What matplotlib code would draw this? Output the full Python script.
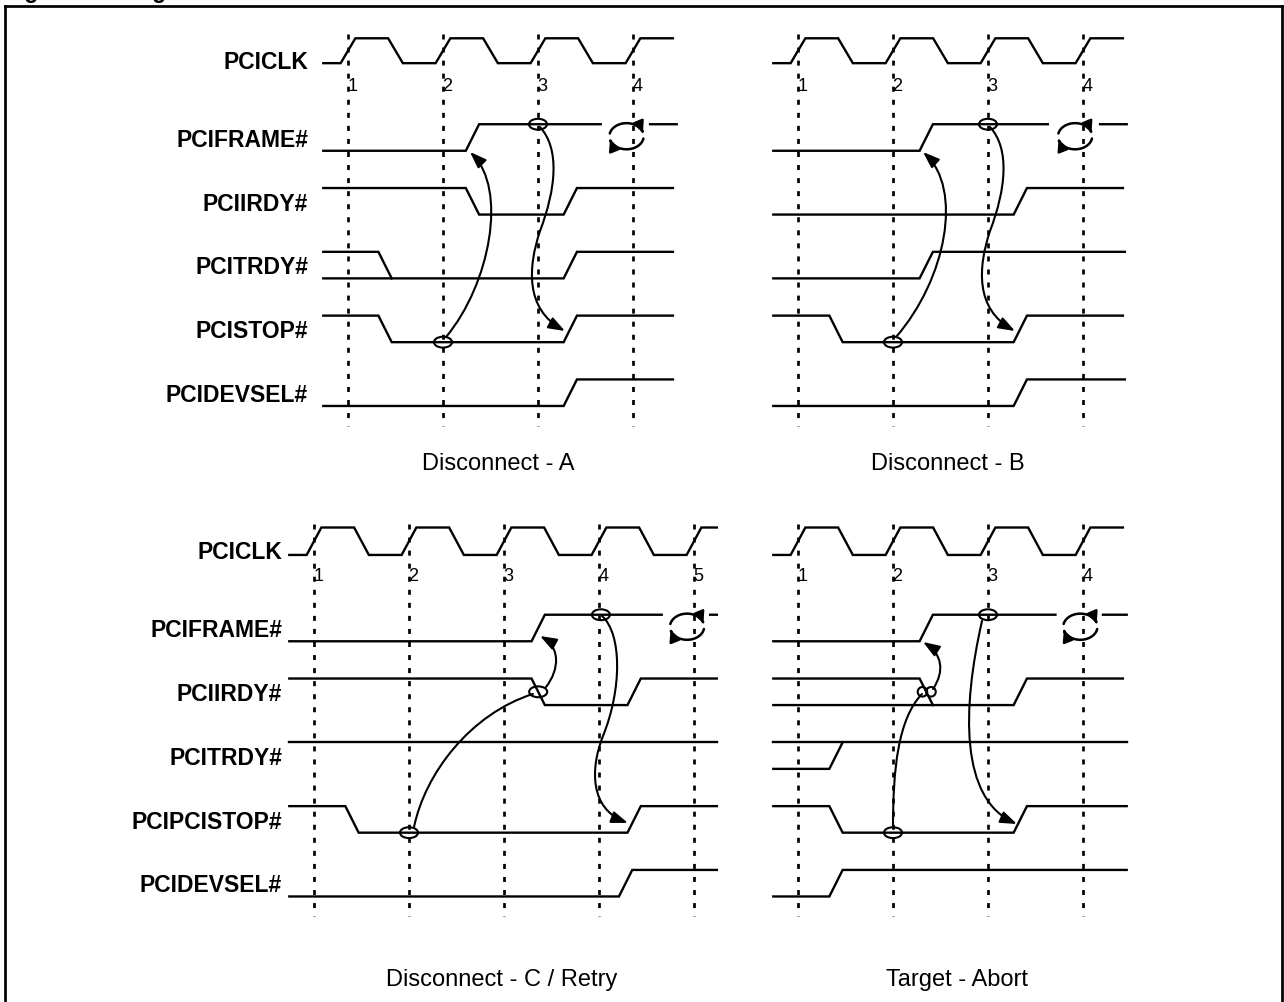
import numpy as np
import matplotlib
matplotlib.use("Agg")
import matplotlib.pyplot as plt
from matplotlib.patches import Ellipse, FancyArrowPatch
from matplotlib.path import Path
from matplotlib.lines import Line2D

plt.rcParams['font.family'] = ['Liberation Sans', 'DejaVu Sans']

# ---------------- data (time in clock periods, rows: 0=CLK .. 5=DEVSEL) ----------------
title = "Figure 12. Target Disconnect"
names_top = ["PCICLK", "PCIFRAME#", "PCIIRDY#", "PCITRDY#", "PCISTOP#", "PCIDEVSEL#"]
names_bottom = ["PCICLK", "PCIFRAME#", "PCIIRDY#", "PCITRDY#", "PCIPCISTOP#", "PCIDEVSEL#"]
captions = ["Disconnect - A", "Disconnect - B", "Disconnect - C / Retry", "Target - Abort"]

clock_numbers = [[1, 2, 3, 4], [1, 2, 3, 4], [1, 2, 3, 4, 5], [1, 2, 3, 4]]
clk_edges_4 = [1, 1.5, 2, 2.5, 3, 3.5, 4]
clk_edges_5 = [1, 1.5, 2, 2.5, 3, 3.5, 4, 4.5, 5]
clk_edges = [clk_edges_4, clk_edges_4, clk_edges_5, clk_edges_4]
t_start = 0.74
t_end = [4.42, 4.42, 5.24, 4.42]

# traces: (row, start level 1=high/0=low, edge times, end time)
wave_a = [(1, 0, [2.31], 4.46), (2, 1, [2.31, 3.34], 4.42), (3, 1, [1.39], 1.46),
          (3, 0, [3.34], 4.42), (4, 1, [1.39, 3.34], 4.42), (5, 0, [3.34], 4.42)]
wave_b = [(1, 0, [2.35], 4.46), (2, 0, [3.34], 4.42), (3, 0, [2.35], 4.44),
          (4, 1, [1.40, 3.34], 4.42), (5, 0, [3.34], 4.44)]
wave_c = [(1, 0, [3.36], 5.24), (2, 1, [3.36, 4.37], 5.24), (3, 1, [], 5.24),
          (4, 1, [1.40, 4.37], 5.24), (5, 0, [4.28], 5.24)]
wave_d = [(1, 0, [2.35], 4.46), (2, 1, [2.35], 2.42), (2, 0, [3.34], 4.42),
          (3, 1, [], 4.46), (3, 0, [1.40], 1.47), (4, 1, [1.40, 3.34], 4.46),
          (5, 0, [1.40], 4.46)]
waves = [wave_a, wave_b, wave_c, wave_d]

# break in the FRAME# high line where the turn-around symbol sits
frame_gaps = [(3.66, 4.18), (3.63, 4.18), (4.66, 5.17), (3.71, 4.21)]

# sample marks: (time, row, level, big?)
marks_a = [(3.0, 1, 1, True), (2.0, 4, 0, True)]
marks_b = [(3.0, 1, 1, True), (2.0, 4, 0, True)]
marks_c = [(4.02, 1, 1, True), (3.36, 2, 0.5, True), (2.0, 4, 0, True)]
marks_d = [(3.0, 1, 1, True), (2.31, 2, 0.5, False), (2.40, 2, 0.5, False), (2.0, 4, 0, True)]
marks = [marks_a, marks_b, marks_c, marks_d]

# cause/effect curves (bezier control points in time / row units), with arrow head?
arrows_a = [([(2.032, 3.127), (2.495, 2.296), (2.684, 0.807), (2.284, 0.227)], True),
            ([(3.021, -0.165), (3.232, 0.180), (3.189, 0.807), (3.021, 1.466),
              (2.895, 2.030), (2.863, 2.688), (3.284, 3.033)], True)]
arrows_b = [([(2.032, 3.127), (2.560, 2.218), (2.740, 0.807), (2.316, 0.227)], True),
            ([(3.021, -0.165), (3.232, 0.180), (3.189, 0.807), (3.021, 1.466),
              (2.895, 2.030), (2.863, 2.688), (3.284, 3.033)], True)]
arrows_c = [([(2.053, 3.119), (2.168, 2.288), (2.642, 1.348), (3.305, 1.034)], False),
            ([(3.442, 0.925), (3.589, 0.643), (3.589, 0.298), (3.379, 0.125)], True),
            ([(4.032, -0.188), (4.242, 0.094), (4.242, 0.956), (4.042, 1.693),
              (3.905, 2.210), (3.905, 2.837), (4.305, 3.056)], True)]
arrows_d = [([(2.0, 3.119), (2.0, 2.210), (2.053, 1.426), (2.305, 1.034)], False),
            ([(2.421, 0.956), (2.547, 0.674), (2.516, 0.408), (2.316, 0.219)], True),
            ([(2.937, -0.110), (2.726, 1.270), (2.705, 2.680), (3.305, 3.072)], True)]
arrows = [arrows_a, arrows_b, arrows_c, arrows_d]

# ---------------- layout ----------------
W, H = 1284, 1003
PERIOD = 95.0      # px per clock
ROWPX = 63.8       # px per signal row
ROW_Y = [-1.36, 0, 1, 2, 3, 4]
AMP = 0.208
clk_amp = [0.195, 0.195, 0.215, 0.215]
dot1_px = [348, 798, 314, 798]
frame_px = [138.5, 138.5, 629, 629]
label_t = [0.58, None, 0.665, None]
cap_pos = [(2.58, 5.19), (2.58, 5.19), (2.98, 5.59), (2.67, 5.59)]
LW = 1.7

fig = plt.figure(figsize=(W / 100, H / 100), dpi=100)


def panel_axes(d1, fm):
    left, right = d1 - 230, d1 + 460
    top, bottom = fm - 150, fm + 380
    ax = fig.add_axes([left / W, 1 - bottom / H, (right - left) / W, (bottom - top) / H])
    ax.set_xlim(1 + (left - d1) / PERIOD, 1 + (right - d1) / PERIOD)
    ax.set_ylim((bottom - fm) / ROWPX, (top - fm) / ROWPX)
    ax.set_axis_off()
    ax.patch.set_visible(False)
    return ax


def trace(ax, ymid, amp, t0, level, edges, t1, tw, gap=None):
    lvl = lambda v: ymid - amp if v else ymid + amp
    xs, ys = [t0], [lvl(level)]
    for e in edges:
        xs += [e - tw / 2, e + tw / 2]
        level = 1 - level
        ys += [ys[-1], lvl(level)]
    if gap is not None:
        xs += [gap[0], np.nan, gap[1]]
        ys += [ys[-1], np.nan, ys[-1]]
    xs.append(t1)
    ys.append(ys[-1])
    ax.plot(xs, ys, color='k', lw=LW, solid_joinstyle='miter', clip_on=False, zorder=3)


def rotate_symbol(ax, cx, cy):
    rx, ry = 0.18, 0.205
    for a0, a1 in [(168, 16), (-10, -165)]:
        th = np.radians(np.linspace(a0, a1, 40))
        verts = np.column_stack([cx + rx * np.cos(th), cy - ry * np.sin(th)])
        ax.add_patch(FancyArrowPatch(path=Path(verts), arrowstyle="-|>,head_length=0.6,head_width=0.3",
                                     mutation_scale=11, lw=1.8, color='k', clip_on=False, zorder=4))


for i in range(4):
    ax = panel_axes(dot1_px[i], frame_px[i])
    # dotted clock reference lines
    for n in clock_numbers[i]:
        ax.plot([n, n], [-1.63, 4.52], color='k', lw=1.95, ls=(0, (1.85, 2.97)),
                dash_capstyle='butt', clip_on=False, zorder=1)
        ax.text(n + 0.045, -0.75, str(n), fontsize=13, ha='center', va='baseline', zorder=5)
    # clock
    trace(ax, ROW_Y[0], clk_amp[i], t_start, 0, clk_edges[i], t_end[i], 0.155)
    # signals
    for row, lev, edges, t1 in waves[i]:
        gap = frame_gaps[i] if row == 1 else None
        trace(ax, ROW_Y[row], AMP, t_start, lev, edges, t1, 0.14, gap)
    g = frame_gaps[i]
    rotate_symbol(ax, (g[0] + g[1]) / 2 + 0.012, ROW_Y[1] - 0.02)
    # sample marks
    for t, row, lev, big in marks[i]:
        y = ROW_Y[row] + AMP * (1 - 2 * lev)
        w, h = (0.19, 0.17) if big else (0.1, 0.15)
        ax.add_patch(Ellipse((t, y), w, h, fill=False, ec='k', lw=1.5, clip_on=False, zorder=4))
    # cause/effect curves
    for pts, head in arrows[i]:
        codes = [Path.MOVETO] + [Path.CURVE4] * (len(pts) - 1)
        style = "-|>,head_length=0.55,head_width=0.2" if head else "-"
        ax.add_patch(FancyArrowPatch(path=Path(pts, codes), arrowstyle=style, mutation_scale=18,
                                     lw=1.5, color='k', clip_on=False, zorder=4))
    # row labels
    if label_t[i] is not None:
        names = names_top if i == 0 else names_bottom
        for row, name in enumerate(names):
            yb = -1.09 if row == 0 else ROW_Y[row] + 0.13
            ax.text(label_t[i], yb, name, fontsize=16.5, fontweight='bold', ha='right', va='baseline')
    ax.text(cap_pos[i][0], cap_pos[i][1], captions[i], fontsize=17, ha='center', va='baseline')

# frame around the figure and the clipped title above it
for xs, ys in [([5.3, 5.3], [H + 5, 7.3]), ([5.3, 1281.5], [7.3, 7.3]), ([1281.5, 1281.5], [7.3, H + 5])]:
    fig.add_artist(Line2D([x / W for x in xs], [1 - y / H for y in ys], color='k', lw=1.95,
                          solid_capstyle='projecting', transform=fig.transFigure))
fig.text(4 / W, 1 + 2 / H, title, fontsize=16.5, fontweight='bold', ha='left', va='baseline')

fig.savefig("out.png", dpi=100)
